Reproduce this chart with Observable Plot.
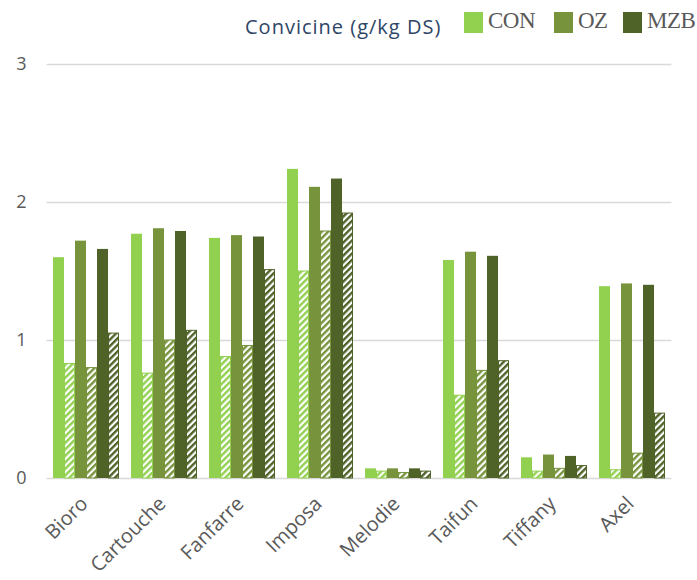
<!DOCTYPE html>
<html>
<head>
<meta charset="utf-8">
<script src="https://cdn.jsdelivr.net/npm/d3@7"></script>
<script src="https://cdn.jsdelivr.net/npm/@observablehq/plot@0.6"></script>
<style>
  body { margin: 0; background: #fff; }
  #header { position: relative; width: 697px; height: 46px; }
  #title { position: absolute; left: 245px; top: 13px; font-family: "Open Sans", sans-serif; font-size: 20px; letter-spacing: 1px; color: #2e4566; white-space: nowrap; }
  .sw { position: absolute; top: 12px; width: 19px; height: 21px; }
  .lab { position: absolute; top: 8px; font-family: "Liberation Serif", serif; font-size: 23px; letter-spacing: -0.5px; color: #595959; white-space: nowrap; }
</style>
</head>
<body>
<div id="header">
  <span id="title">Convicine (g/kg DS)</span>
</div>
<div id="chart"></div>
<script>
const varieties = ["Bioro", "Cartouche", "Fanfarre", "Imposa", "Melodie", "Taifun", "Tiffany", "Axel"];
const seriesNames = ["CON", "OZ", "MZB"];
const seriesColors = ["#92d050", "#77933c", "#4f6228"];
// solid bars
const conValues = [1.60, 1.77, 1.74, 2.24, 0.07, 1.58, 0.15, 1.39];
const ozValues  = [1.72, 1.81, 1.76, 2.11, 0.07, 1.64, 0.17, 1.41];
const mzbValues = [1.66, 1.79, 1.75, 2.17, 0.07, 1.61, 0.16, 1.40];
// hatched bars
const conHatched = [0.83, 0.76, 0.88, 1.50, 0.05, 0.60, 0.05, 0.06];
const ozHatched  = [0.80, 1.00, 0.96, 1.79, 0.04, 0.78, 0.07, 0.18];
const mzbHatched = [1.05, 1.07, 1.51, 1.92, 0.05, 0.85, 0.09, 0.47];
const yTicks = [0, 1, 2, 3];

const solidBySeries = [conValues, ozValues, mzbValues];
const hatchedBySeries = [conHatched, ozHatched, mzbHatched];

const rows = [];
varieties.forEach((v, i) => {
  seriesNames.forEach((s, j) => {
    rows.push({variety: v, series: s, key: s, hatched: false, value: solidBySeries[j][i]});
    rows.push({variety: v, series: s, key: s + "-h", hatched: true, value: hatchedBySeries[j][i]});
  });
});
const keyDomain = seriesNames.flatMap(s => [s, s + "-h"]);

// legend
const header = document.getElementById("header");
const legendPos = [[464, 488], [554, 578], [623, 647]];
seriesNames.forEach((s, j) => {
  const sw = document.createElement("span");
  sw.className = "sw"; sw.style.left = legendPos[j][0] + "px"; sw.style.background = seriesColors[j];
  header.appendChild(sw);
  const lab = document.createElement("span");
  lab.className = "lab"; lab.style.left = legendPos[j][1] + "px"; lab.textContent = s;
  header.appendChild(lab);
});

const width = 697, marginLeft = 47, marginRight = 26;
const fxPadInner = 0.13, fxPadOuter = 0.065;
const step = (width - marginLeft - marginRight) / (varieties.length - fxPadInner + 2 * fxPadOuter);
const gridExtend = -(fxPadInner * step) / 2 - 0.3;

const marks = [
  Plot.ruleY(yTicks, {stroke: "#d9d9d9", strokeWidth: 1.5, insetLeft: gridExtend, insetRight: gridExtend}),
  Plot.barY(rows.filter(d => !d.hatched), {fx: "variety", x: "key", y: "value", fill: "series"}),
  ...seriesNames.map((s, j) => Plot.barY(rows.filter(d => d.hatched && d.series === s), {
    fx: "variety", x: "key", y: "value",
    fill: `url(#hatch-${s})`, stroke: seriesColors[j], strokeWidth: 1, insetLeft: 0.5, insetRight: 0.5
  })),
  Plot.axisY({ticks: yTicks, tickSize: 0, tickPadding: 26, fontSize: 18, tickFormat: d => d, label: null}),
  Plot.axisFx({anchor: "bottom", tickRotate: -45, tickSize: 0, tickPadding: 8, dx: -2, dy: 14, fontSize: 20, label: null})
];

const svg = Plot.plot({
  width,
  height: 534,
  marginLeft,
  marginRight,
  marginTop: 18,
  marginBottom: 102,
  style: {fontFamily: "Open Sans, sans-serif", color: "#595959", background: "#fff"},
  fx: {domain: varieties, paddingInner: fxPadInner, paddingOuter: fxPadOuter},
  x: {domain: keyDomain, padding: 0, axis: null},
  y: {domain: [0, 3], axis: null},
  color: {domain: seriesNames, range: seriesColors},
  marks
});

const defs = d3.select(svg).insert("defs", ":first-child");
seriesNames.forEach((s, j) => {
  const p = defs.append("pattern")
    .attr("id", `hatch-${s}`)
    .attr("patternUnits", "userSpaceOnUse")
    .attr("width", 4.6).attr("height", 4.6)
    .attr("patternTransform", "rotate(45)");
  p.append("rect").attr("width", 4.6).attr("height", 4.6).attr("fill", "#fff");
  p.append("rect").attr("width", 2.4).attr("height", 4.6).attr("fill", seriesColors[j]);
});

document.getElementById("chart").appendChild(svg);
</script>
</body>
</html>
